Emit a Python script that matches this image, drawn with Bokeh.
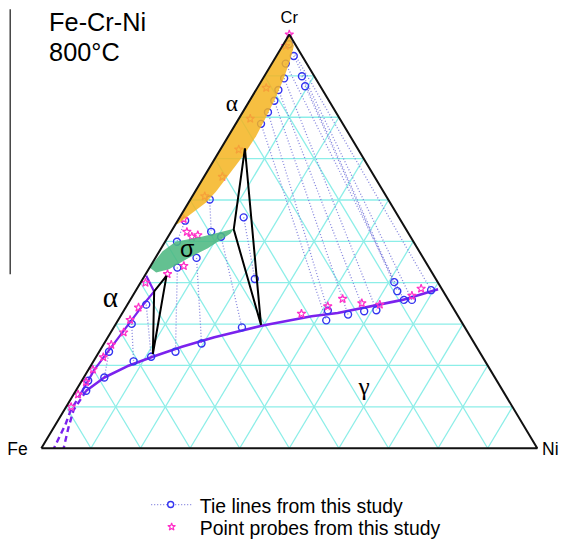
import numpy as np
from bokeh.plotting import figure
from bokeh.models import Range1d, Label
from bokeh.embed import file_html
from bokeh.resources import INLINE

# ---------------- data (wt.% Cr, wt.% Ni) ----------------
alpha_band_cr = [100, 97.25, 94.1, 89.4, 84.7, 80.0, 75.4, 71.2, 65.6, 62.0, 59.3, 54.2, 54.2]
alpha_band_ni = [0, 2.3, 3.2, 4.2, 4.9, 5.3, 5.6, 5.4, 4.7, 4.2, 3.5, 0.4, 0]

sigma_cr = [43.66, 47.58, 49.93, 51.1, 52.28, 53.05, 51.88, 48.36, 46.0, 43.26, 42.5]
sigma_ni = [0.0, 0.66, 2.1, 6.75, 10.1, 12.3, 12.2, 9.4, 6.7, 4.1, 1.9]

gamma_cr = [38.4, 35.85, 32.7, 31.9, 29.6, 26.8, 24.5, 22.1, 19.8, 17.1, 13.9]
gamma_ni = [60.8, 54.9, 43.4, 38.55, 29.6, 21.5, 16.1, 11.4, 7.4, 4.15, 2.1]
gamma_dash_cr = [13.9, 9.2, 4.9, 0]
gamma_dash_ni = [2.1, 1.9, 3.0, 4.5]

alpha_cr = [41.7, 37.9, 35.05, 31.5, 25.3, 19.0, 13.5]
alpha_ni = [0.3, 3.8, 3.26, 2.8, 2.0, 1.2, 1.33]
alpha_dash_cr = [13.5, 8.85, 5.7, 0]
alpha_dash_ni = [1.33, 1.4, 2.0, 2.55]

tri1_cr = [37.9, 41.67, 22.77]
tri1_ni = [3.8, 4.4, 11.1]
tri2_cr = [72.5, 52.9, 29.8]
tri2_ni = [4.8, 12.35, 29.4]

# tie lines: end 1 (alpha / sigma side) -> end 2 (gamma side)
tie_cr1 = [97.65, 94.8, 92.96, 89.9, 87.5, 89.4, 86.6, 83.97, 81.2, 78.4,
           43.66, 46.0, 51.1, 55.0, 60.1, 55.8,
           30.05, 34.7, 23.3, 16.3]
tie_ni1 = [1.1, 3.5, 2.8, 7.6, 9.45, 4.26, 4.5, 5.0, 5.1, 5.1,
           5.6, 8.3, 10.7, 1.5, 3.9, 12.9,
           3.2, 3.8, 2.0, 1.3]
tie_cr2 = [38.2, 35.85, 35.85, 40.14, 37.96, 33.33, 33.1, 32.3, 33.26, 30.9,
           23.3, 25.3, 29.2, 49.9, 52.3, 40.9,
           21.0, 22.1, 17.1, 13.9]
tie_ni2 = [59.5, 56.8, 55.2, 51.1, 52.8, 50.9, 48.55, 45.7, 41.15, 42.0,
           15.4, 19.65, 25.85, 2.4, 8.1, 22.6,
           8.1, 11.1, 4.15, 2.1]

star_cr = [100, 97.25, 87.1, 79.65, 72.2, 65.6, 60.9, 55.4,
           52.3, 51.5, 51.1, 44.06, 42.1,
           40.0, 34.0, 31.0, 28.0, 25.0, 22.0, 19.0, 16.0, 13.0, 10.0,
           32.5, 34.3, 36.1, 35.05, 34.7, 36.85, 38.57]
star_ni = [0, 0.65, 1.8, 2.3, 3.7, 3.7, 2.5, 1.0,
           3.2, 5.8, 4.8, 6.7, 4.4,
           1.0, 2.6, 2.4, 2.6, 1.6, 1.5, 0.9, 1.0, 0.9, 1.0,
           36.2, 40.6, 42.7, 47.1, 50.9, 56.3, 57.3]

grid_steps = [10, 20, 30, 40, 50, 60, 70, 80, 90]

W, H = 563, 539
S = W / 579.0  # overall scale from the 579x555 layout


def tx(cr, ni):
    return np.asarray(ni, float) / 100 + np.asarray(cr, float) / 200


def ty(cr):
    return np.asarray(cr, float) / 100


def px(x):  # layout pixel -> data x
    return (x - 42) / 510


def py(y):  # layout pixel -> data y
    return (461 - y) / 426


p = figure(width=W, height=H, output_backend="svg", toolbar_location=None,
           x_range=Range1d(px(0), px(579)), y_range=Range1d(py(555), py(0)),
           x_axis_location=None, y_axis_location=None, min_border=0)
p.grid.grid_line_color = None
p.outline_line_color = None
p.background_fill_color = "white"

# grid
gxs, gys = [], []
for g in grid_steps:
    gxs.append(list(tx([g, g], [0, 100 - g]))); gys.append(list(ty([g, g])))
    gxs.append(list(tx([0, 100 - g], [g, g]))); gys.append(list(ty([0, 100 - g])))
    gxs.append(list(tx([0, 100 - g], [100 - g, 0]))); gys.append(list(ty([0, 100 - g])))
p.multi_line(gxs, gys, line_color="#8CEEE8", line_width=1.3)

# tie lines
txs = [list(tx([a, b], [c, d])) for a, b, c, d in zip(tie_cr1, tie_cr2, tie_ni1, tie_ni2)]
tys = [list(ty([a, b])) for a, b in zip(tie_cr1, tie_cr2)]
p.multi_line(txs, tys, line_color="#7070D8", line_width=1.3, line_dash="1 2", line_alpha=0.85)

# phase boundaries
p.line(tx(gamma_cr, gamma_ni), ty(gamma_cr), line_color="#7B22EE", line_width=2.6)
p.line(tx(gamma_dash_cr, gamma_dash_ni), ty(gamma_dash_cr), line_color="#7B22EE",
       line_width=2.4, line_dash="6 4")
p.line(tx(alpha_cr, alpha_ni), ty(alpha_cr), line_color="#7B22EE", line_width=2.2)
p.line(tx(alpha_dash_cr, alpha_dash_ni), ty(alpha_dash_cr), line_color="#7B22EE",
       line_width=2.4, line_dash="6 4")

# markers
p.scatter(np.concatenate([tx(tie_cr1, tie_ni1), tx(tie_cr2, tie_ni2)]),
          np.concatenate([ty(tie_cr1), ty(tie_cr2)]),
          marker="circle", size=7, fill_color=None, line_color="#3434F0", line_width=1.4)
p.scatter(tx(star_cr, star_ni), ty(star_cr), marker="star", size=9,
          fill_color=None, line_color="#FF30C8", line_width=1.2)

# phase regions
p.patch(tx(alpha_band_cr, alpha_band_ni), ty(alpha_band_cr), fill_color="#F4B420",
        fill_alpha=0.85, line_color=None)
p.patch(tx(sigma_cr, sigma_ni), ty(sigma_cr), fill_color="#4DB882",
        fill_alpha=0.88, line_color=None)

# three-phase triangles
for tc, tn in ((tri1_cr, tri1_ni), (tri2_cr, tri2_ni)):
    p.patch(tx(tc, tn), ty(tc), fill_color=None, line_color="black", line_width=2)

# triangle edges
p.line(tx([0, 100, 0, 0], [0, 0, 100, 0]), ty([0, 100, 0, 0]), line_color="#111111",
       line_width=2)

# stray vertical rule at left
p.line([px(10), px(10)], [py(9), py(282)], line_color="#444444", line_width=1.5)

# legend
p.line([px(155), px(197)], [py(519), py(519)], line_color="#8080DD", line_width=1.3,
       line_dash="1 2")
p.scatter([px(175)], [py(519)], marker="circle", size=6, fill_color="white",
          line_color="#3434F0", line_width=1.4)
p.scatter([px(176)], [py(542)], marker="star", size=8, fill_color=None,
          line_color="#FF30C8", line_width=1.2)


def lab(text, x, y, size, font="Liberation Sans", align="left"):
    p.add_layout(Label(x=px(x), y=py(y), text=text, text_font=font,
                       text_font_size=f"{size * S:.1f}px", text_align=align,
                       text_baseline="middle", text_color="black"))


lab("Tie lines from this study", 205, 520, 20)
lab("Point probes from this study", 205, 543, 20)
lab("Fe-Cr-Ni", 50, 22, 26)
lab("800°C", 50, 53, 26)
lab("Cr", 297, 17.5, 17, align="center")
lab("Fe", 7, 462, 18)
lab("Ni", 557, 462, 18)
lab("α", 238, 106, 24, font="Liberation Serif", align="center")
lab("α", 113, 305, 30, font="Liberation Serif", align="center")
lab("σ", 192, 256, 24, align="center")
lab("γ", 374, 397, 26, font="Liberation Serif", align="center")

open("out.html", "w").write(file_html(p, INLINE))
